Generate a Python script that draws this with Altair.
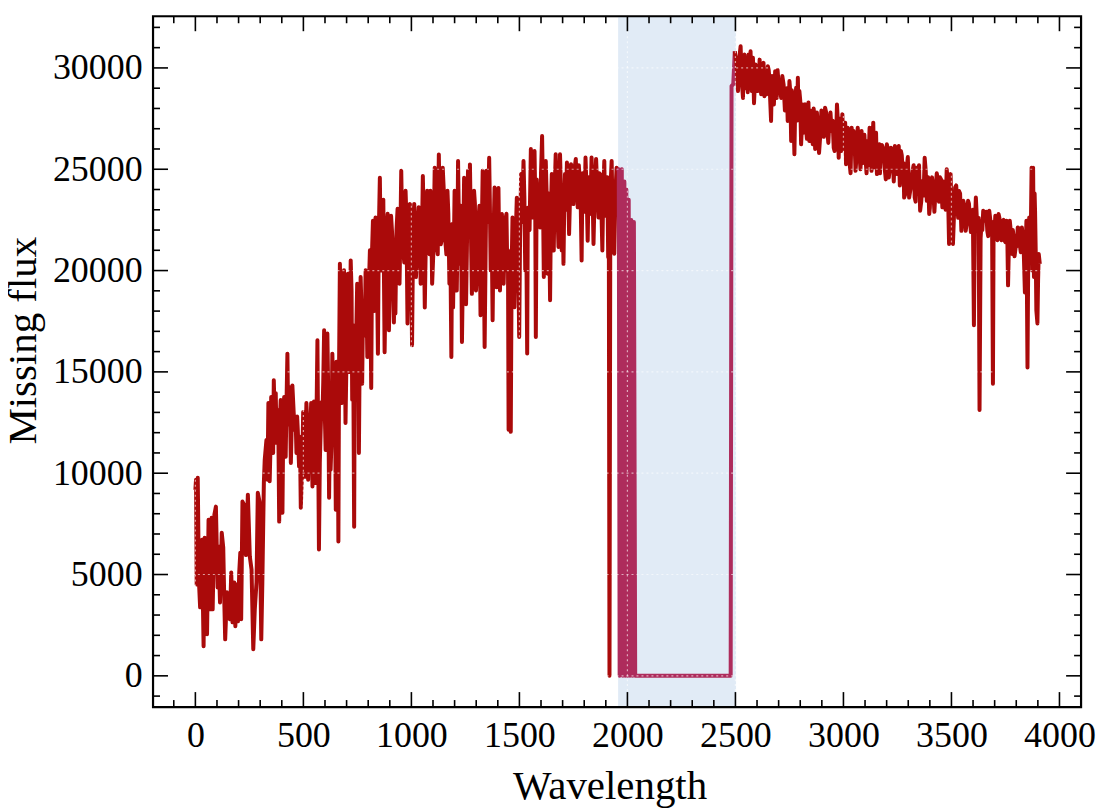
import altair as alt
import pandas as pd

# ---- data ----
# part before the shaded band (red)
wl_before = [0,3,6,11,16,22,27,31,35,38,43,48,54,61,65,69,75,80,88,95,103,107,114,122,129,134,138,146,152,160,166,172,180,185,192,197,203,208,212,218,225,234,243,252,260,268,275,283,289,297,305,310,317,321,329,334,338,344,351,357,363,372,380,388,395,403,411,418,426,434,442,449,460,468,474,
             480,488,493,499,506,514,522,528,536,542,549,557,565,572,580,588,596,603,611,619,626,634,642,650,656,662,669,677,688,695,706,712,719,726,735,742,749,757,765,772,780,788,796,803,814,822,828,834,845,854,865,876,885,896,906,919,926,936,945,953,961,973,982,993,1003,1013,1021,1034,1043,1053,1062,1073,1080,1088,1096,1108,1117,1127,1136,1145,1157,1167,1176,1185,1193,1200,1210,1216,1225,1234,1244,1253,1262,1271,1280,1290,1299,1311,1320,1330,1339,1348,1360,1367,1376,1385,1394,
             1403,1410,1419,1427,1437,1444,1450,1455,1460,1468,1477,1488,1499,1508,1519,1527,1536,1542,1553,1562,1570,1576,1585,1596,1605,1613,1622,1631,1642,1650,1659,1668,1681,1688,1696,1704,1711,1720,1730,1739,1750,1761,1770,1781,1788,1797,1806,1816,1827,1834,1843,1855,1866,1874,1884,1893,1903,1911,1914,1917,1921,1927,1933,1939,1945,1950,1955]
flux_before = [9180,9680,4510,9780,4800,3380,6500,6720,3500,1460,6820,4000,2050,7700,5000,3280,7800,3280,7950,8350,4360,6380,3620,7060,6330,3620,1800,4120,3280,2790,5100,2640,4610,2450,4510,2690,5100,6080,2790,8600,8450,5960,8940,5890,5250,1310,3280,4610,9030,8600,1800,4610,9520,10660,11640,9680,13460,9600,13760,13120,14590,13950,13120,7610,13610,8050,13760,10810,15900,14250,10500,14330,12140,11000,12140,
               10340,8300,9830,13020,9830,13460,9680,11990,13460,9340,13540,9520,16560,6230,12140,12780,17050,11150,16890,8790,10170,15900,12000,8200,12000,6630,20340,13460,20010,12480,19840,15000,20500,13620,7360,14000,19350,11000,19680,14420,17000,20010,15730,19180,14200,22460,18000,22620,15900,24580,21970,15970,21970,17050,22700,17440,17880,23050,19350,24920,21140,23940,17390,23290,16320,23290,19680,23130,19350,24670,18180,23940,21140,23940,19350,25080,21300,25730,21300,25080,21470,23940,19350,15730,18180,23940,19020,25410,20340,16480,24580,18340,24920,25240,18850,23940,19020,22620,17800,24920,16230,24920,25570,20010,17550,24100,19180,
               24080,19020,22790,19350,22620,20000,12140,16000,12040,22620,18190,23590,16720,24760,25410,20010,15910,22130,26000,22620,25900,16720,23440,22130,26640,19680,25410,19840,18530,24760,20990,25740,21160,25740,20990,20330,24760,25330,21800,25250,23280,25510,23120,24100,20500,24100,25580,21470,22790,25580,21310,25510,22620,24760,20990,25410,23690,20660,22000,0,24000,25410,22000,20830,24000,25080,24900]
# further readings inside the dense band before the shaded region
wl_before_extra = [333,341,347,354,360,367,376,384,392,399,407,414,422,430,438,445,455,464,471,484,496,503,510,518,525,532,539,545,553,561,576,584,592,599,607,615,623,630,638,646,653,659,665,673,682,691,700,709,716,723,730,738,745,753,761,768,776,784,792,800,808,811,
                   818,825,831,840,849,859,870,881,890,901,912,923,931,940,949,957,967,977,987,998,1008,1017,1027,1038,1048,1057,1067,1076,1084,1092,1102,1112,1122,1131,1140,1151,1162,1171,1180,1189,1196,1205,1213,1220,1229,1239,1248,1257,1266,1275,1285,1294,1305,1315,1325,1334,1344,1354,1363,1371,1380,1390,1398,
                   1406,1415,1423,1432,1440,1447,1464,1472,1482,1493,1503,1513,1523,1531,1539,1547,1557,1566,1573,1580,1590,1600,1609,1617,1626,1636,1646,1654,1663,1674,1684,1692,1700,1707,1715,1725,1734,1744,1755,1765,1775,1784,1792,1801,1811,1821,1830,1838,1848,1860,1870,1879,1888,1897,1907]
flux_before_extra = [10500,12000,11000,12500,11000,12800,11500,12300,12800,10800,12500,12000,13500,12400,13300,11900,13000,12700,12800,11800,11200,11800,11500,12500,11300,12000,11500,12600,11500,13000,10500,13500,14500,13000,12500,14000,12800,11500,14000,14200,15500,13500,15000,17500,15500,17500,16000,17800,17000,19000,17300,16500,17000,18200,16500,18500,18000,16800,18700,17500,21000,17500,
                     21000,19500,21500,20500,21800,20000,23500,19600,22800,19800,21600,20300,22000,21000,21800,22300,20400,22600,20600,22000,21800,22400,21000,22300,21100,22400,21600,22300,20800,22400,21000,23500,20800,23000,21500,23700,20800,22800,21500,22300,20600,22500,21200,22200,23200,20500,22300,21100,22000,22300,21200,23300,20400,23200,21400,22000,21300,22400,23500,22600,21600,23000,21800,
                     21500,22600,21000,21500,22800,21000,20000,21600,21400,22400,21600,22400,23600,22800,23100,22000,24000,23000,23800,24500,23900,24800,23800,23300,23800,23800,23000,22700,23900,23600,23200,24100,23300,22800,23000,24300,23500,24500,25000,24300,25200,23200,24800,22900,24000,24600,23600,24300,23700,24100,24800,23300,23800,22700,24600]

# part inside the shaded band
wl_inside = [1955,1960,1964,1968,1974,1979,1986,1990,1995,2001,2006,2012,2018,2024,2030,2036,2478,2482,2490,2497]
flux_inside = [24900,25000,0,24800,25000,0,24400,0,24000,0,23500,0,22500,0,22400,0,0,29100,29200,30820]

# part after the shaded band (red)
wl_after = [2497,2512,2524,2535,2542,2553,2561,2570,2576,2586,2593,2604,2612,2619,2630,2639,2650,2658,2665,2673,2684,2691,2699,2712,2723,2735,2742,2750,2758,2765,2773,2781,2789,2796,2804,2812,2819,2827,2835,2842,2850,2858,2866,2873,2881,2893,2904,2915,2924,2935,2945,2955,2963,2970,2978,2986,2995,3004,3012,3020,3029,3038,3047,3056,3066,3075,3084,3093,3102,3112,3121,3130,3138,3147,3155,3166,3173,3183,3192,3201,3210,3220,3229,3238,3247,3256,3266,
            3275,3281,3293,3304,3320,3330,3338,3345,3355,3366,3376,3386,3397,3404,3416,3427,3438,3447,3458,3469,3478,3489,3496,3507,3517,3527,3535,3546,3555,3566,3577,3586,3595,3604,3613,3622,3630,3640,3647,3656,3666,3675,3684,3692,3699,3708,3718,3727,3737,3746,3755,3762,3770,3781,3788,3797,3807,3816,3826,3835,3840,3847,3852,3860,3866,3871,3878,3882,3887,3893,3898,3904,3909]
flux_after = [30820,28860,31070,28520,30660,29990,30660,30820,28860,28260,30170,28860,30410,28700,30250,29350,30080,29350,27380,29510,29840,28520,29350,28520,29180,28520,27380,29350,26390,28520,25740,29020,29510,28860,26230,28200,28040,27050,27880,26390,27720,26230,27550,26720,27220,26720,27550,28040,27050,27380,26890,26060,27220,28200,25570,26560,27720,26890,25250,27050,25250,27050,26890,24920,27050,25570,26890,26390,25570,26390,27050,24920,27300,26390,24760,26230,25740,26060,24920,26230,24590,26060,25250,26150,24760,26150,25900,
              24760,23600,25080,23600,24920,23600,25080,24600,22950,24420,25570,23440,22790,24260,23930,24100,24420,24600,23120,24100,25000,21310,24760,21310,24100,23280,23930,21960,23440,21960,23440,22460,22620,17300,23600,21960,13120,22460,22950,22460,21960,22950,22130,14420,21800,21960,22790,21640,22460,21470,22460,19270,22460,20820,21640,21140,22130,21310,22130,20820,18920,22460,15220,22620,20660,25080,25080,19680,22950,18040,17390,20820,20330]
# further readings inside the dense band after the shaded region
wl_after_extra = [2505,2518,2529,2538,2547,2557,2565,2573,2581,2589,2598,2608,2615,2624,2634,2645,2654,2661,2669,2678,2688,2695,2705,2717,2729,2738,2746,2754,2761,2769,2777,2785,2792,2800,2808,2815,2823,2831,2838,2846,2854,2862,2869,2877,2887,2898,2909,2920,2930,2940,2950,2959,2966,2974,2982,2990,3000,3008,3016,3025,3033,3042,3051,3061,3070,3079,3088,3097,3107,3116,3125,3134,3142,3151,3160,3169,3178,3187,3196,3205,3215,3224,3233,3242,3251,3261,3270,
                  3278,3287,3298,3310,3325,3334,3341,3350,3360,3371,3381,3392,3400,3410,3421,3432,3442,3452,3463,3473,3483,3492,3501,3512,3522,3531,3540,3550,3560,3571,3581,3590,3599,3608,3617,3626,3635,3643,3651,3661,3670,3680,3688,3695,3703,3713,3722,3732,3741,3750,3758,3766,3775,3784,3792,3802,3811,3821,3830,3844,3856,3863,3874,3885,3890,3901]
flux_after_extra = [30200,30500,29400,30600,29000,28800,29300,29500,30500,29000,29900,29200,29600,29800,28600,28700,29900,28400,29600,28200,29300,29900,29100,29600,27900,29000,28000,28800,28900,27500,28300,27400,27600,28400,27200,26800,28200,26500,28300,27900,26700,28000,26000,27800,25800,27900,26600,27800,26300,27800,27400,25900,26400,27400,27500,25900,26000,27300,26000,26700,24800,26200,26500,25700,26600,25000,25300,26700,24800,25200,26500,26000,25100,26800,25800,24800,26200,25800,24500,26000,25100,25900,24400,25400,25900,24200,25700,
                    25300,23800,25600,24000,25200,23400,23800,25200,23400,23700,24900,24600,23100,24600,22900,24800,23400,24500,24400,23000,24400,24300,22700,22800,24200,22600,23800,22700,23200,22400,23300,21900,23000,22200,22700,22600,21600,22000,22900,22900,21700,22500,22400,22000,22700,21500,22600,21500,22500,21400,22100,21300,21900,22000,20700,21200,22100,20900,21700,21200,21400,21700,20000,23800,21000,19500]

shade_start, shade_end = 1957, 2503

x_major = [0, 500, 1000, 1500, 2000, 2500, 3000, 3500, 4000]
x_minor = [v for v in range(-100, 4100, 100) if v % 500 != 0]
y_major = [0, 5000, 10000, 15000, 20000, 25000, 30000]
y_minor = [v for v in range(-1000, 33000, 1000) if v % 5000 != 0]

RED = "#aa0a0a"
PURPLE = "#ae2c5c"
SHADE = "#e1ebf6"
FONT = "Liberation Serif"
W, H = 931, 693

# ---- frames ----
before = sorted(zip(wl_before + wl_before_extra, flux_before + flux_before_extra), key=lambda p: p[0])
after = sorted(zip(wl_after + wl_after_extra, flux_after + flux_after_extra), key=lambda p: p[0])
rows = []
for w, f in before:
    rows.append({"wl": w, "flux": f, "seg": "s1", "zone": "out"})
for w, f in zip(wl_inside, flux_inside):
    rows.append({"wl": w, "flux": f, "seg": "s2", "zone": "in"})
for w, f in after:
    rows.append({"wl": w, "flux": f, "seg": "s3", "zone": "out"})
df = pd.DataFrame(rows)
df["order"] = range(len(df))

xscale = alt.Scale(domain=[-196, 4100], nice=False, zero=False)
yscale = alt.Scale(domain=[-1540, 32550], nice=False, zero=False)

x_axis = alt.Axis(values=x_major, ticks=False, tickSize=0, domain=False, grid=False,
                  labelFont=FONT, labelFontSize=36, labelColor="black", labelPadding=12,
                  labelFlush=False, format="d",
                  title="Wavelength", titleFont=FONT, titleFontSize=41,
                  titleFontWeight="normal", titleColor="black", titlePadding=13,
                  titleX=458, titleAnchor="middle")
y_axis = alt.Axis(values=y_major, ticks=False, tickSize=0, domain=False, grid=False,
                  labelFont=FONT, labelFontSize=36, labelColor="black", labelPadding=11,
                  format="d",
                  title="Missing flux", titleFont=FONT, titleFontSize=41,
                  titleFontWeight="normal", titleColor="black", titlePadding=8,
                  titleY=325, titleAnchor="middle")


def X(field):
    return alt.X(field, scale=xscale, axis=x_axis)


def Y(field):
    return alt.Y(field, scale=yscale, axis=y_axis)


shade = alt.Chart(pd.DataFrame({"wl": [shade_start], "b": [shade_end]})).mark_rect(
    color=SHADE, opacity=1
).encode(x=X("wl:Q"), x2="b:Q", y=alt.value(0), y2=alt.value(H))

line = alt.Chart(df).mark_line(strokeWidth=4, strokeJoin="round", clip=True).encode(
    x=X("wl:Q"),
    y=Y("flux:Q"),
    color=alt.Color("zone:N", scale=alt.Scale(domain=["out", "in"], range=[RED, PURPLE]), legend=None),
    detail="seg:N",
    order="order:Q",
)

grid_x = alt.Chart(pd.DataFrame({"wl": x_major})).mark_rule(
    color="white", strokeWidth=1.2, strokeDash=[2, 3], opacity=0.6
).encode(x=X("wl:Q"), y=alt.value(0), y2=alt.value(H))
grid_y = alt.Chart(pd.DataFrame({"flux": y_major})).mark_rule(
    color="white", strokeWidth=1.2, strokeDash=[2, 3], opacity=0.6
).encode(y=Y("flux:Q"), x=alt.value(0), x2=alt.value(W))


def xticks(vals, length, top):
    d = pd.DataFrame({"wl": vals})
    if top:
        yy, yy2 = alt.value(0), alt.value(length)
    else:
        yy, yy2 = alt.value(H), alt.value(H - length)
    return alt.Chart(d).mark_rule(color="black", strokeWidth=1.6).encode(
        x=X("wl:Q"), y=yy, y2=yy2)


def yticks(vals, length, right):
    d = pd.DataFrame({"flux": vals})
    if right:
        xx, xx2 = alt.value(W), alt.value(W - length)
    else:
        xx, xx2 = alt.value(0), alt.value(length)
    return alt.Chart(d).mark_rule(color="black", strokeWidth=1.6).encode(
        y=Y("flux:Q"), x=xx, x2=xx2)


frame = alt.Chart(pd.DataFrame({"a": [0]})).mark_rect(
    fill=None, stroke="black", strokeWidth=2.2, fillOpacity=0
).encode(x=alt.value(0), x2=alt.value(W), y=alt.value(0), y2=alt.value(H))

chart = alt.layer(
    shade, line, grid_x, grid_y,
    xticks(x_major, 15, False), xticks(x_minor, 7, False),
    xticks(x_major, 15, True), xticks(x_minor, 7, True),
    yticks(y_major, 15, False), yticks(y_minor, 7, False),
    yticks(y_major, 15, True), yticks(y_minor, 7, True),
    frame,
).properties(
    width=W, height=H,
    padding={"left": 145.5, "top": 7, "right": 20, "bottom": 100},
    autosize=alt.AutoSizeParams(type="none"),
).configure_view(stroke=None).configure(background="white")

chart.save("out.html", embed_options={"renderer": "svg", "actions": False})
